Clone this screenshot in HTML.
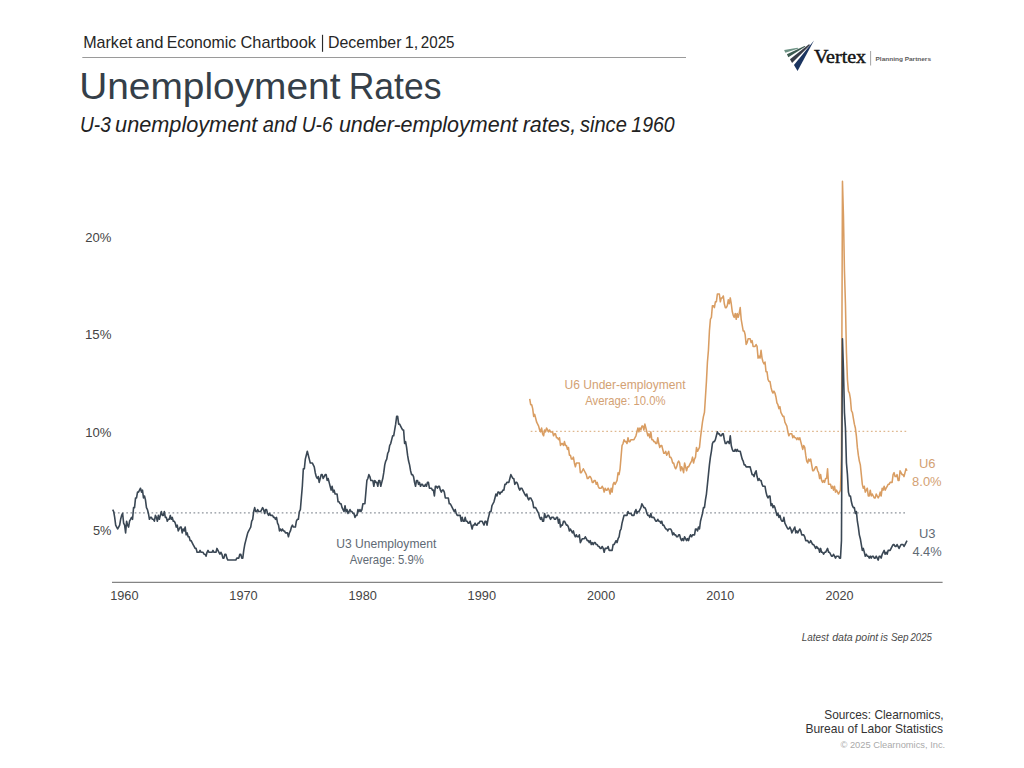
<!DOCTYPE html>
<html><head><meta charset="utf-8"><style>
html,body{margin:0;padding:0;background:#fff;width:1024px;height:768px;overflow:hidden}
svg{display:block}
</style></head><body>
<svg width="1024" height="768" viewBox="0 0 1024 768">
<rect width="1024" height="768" fill="#fff"/>
<rect x="321.95" y="34.8" width="1.15" height="17" fill="#2a2a2a"/>
<line x1="82.3" y1="57.5" x2="686" y2="57.5" stroke="#9a9a9a" stroke-width="1.1"/>

<g>
<polygon points="784.11,50.10 797.47,47.75 798.50,48.41 785.38,52.72" fill="#6e9385"/>
<polygon points="786.92,54.32 804.50,45.97 805.53,46.53 788.33,57.32" fill="#3d5a50"/>
<polygon points="789.97,59.19 808.96,44.19 810.13,44.94 792.08,62.94" fill="#393d48"/>
<polygon points="793.95,65.10 813.97,40.58 797.56,70.91" fill="#1b3460"/>
<text x="813.9" y="62.6" font-family="Liberation Serif" font-size="18" fill="#151515" stroke="#151515" stroke-width="0.45" textLength="52.2" lengthAdjust="spacingAndGlyphs">Vertex</text>
<rect x="870.2" y="51" width="0.9" height="14.5" fill="#999"/>
<text x="875.5" y="61" font-family="Liberation Sans" font-weight="bold" font-size="6.1" fill="#5a5a5a" textLength="55.5" lengthAdjust="spacingAndGlyphs">Planning Partners</text>
</g>

<line x1="113.7" y1="512.90" x2="907.0" y2="512.90" stroke="#8d939b" stroke-width="1.2" stroke-dasharray="1.7,2.5"/>
<line x1="530.7" y1="431.40" x2="907.0" y2="431.40" stroke="#dfb890" stroke-width="1.2" stroke-dasharray="1.7,2.5"/>
<line x1="112" y1="582.3" x2="942.6" y2="582.3" stroke="#848484" stroke-width="1.3"/>
<polyline points="529.71,398.89 530.70,404.71 531.69,404.71 532.69,408.60 533.68,416.36 534.67,414.42 535.66,418.31 536.66,422.19 537.65,424.13 538.64,426.07 539.64,429.96 540.63,431.90 541.62,428.02 542.61,433.84 543.61,435.78 544.60,429.96 545.59,431.90 546.59,428.02 547.58,429.96 548.57,431.90 549.56,429.96 550.56,431.90 551.55,431.90 552.54,431.90 553.54,435.78 554.53,433.84 555.52,433.84 556.52,437.73 557.51,437.73 558.50,439.67 559.49,437.73 560.49,445.49 561.48,443.55 562.47,443.55 563.47,445.49 564.46,441.61 565.45,445.49 566.44,445.49 567.44,449.38 568.43,447.44 569.42,455.20 570.42,455.20 571.41,459.09 572.40,459.09 573.39,457.15 574.39,462.97 575.38,466.86 576.37,462.97 577.37,462.97 578.36,462.97 579.35,462.97 580.34,472.68 581.34,472.68 582.33,470.74 583.32,468.80 584.32,470.74 585.31,472.68 586.30,474.62 587.29,478.51 588.29,478.51 589.28,476.57 590.27,476.57 591.27,478.51 592.26,482.39 593.25,482.39 594.24,480.45 595.24,480.45 596.23,484.33 597.22,482.39 598.22,486.28 599.21,488.22 600.20,488.22 601.19,488.22 602.19,486.28 603.18,488.22 604.17,492.10 605.17,488.22 606.16,490.16 607.15,490.16 608.14,488.22 609.14,490.16 610.13,494.04 611.12,488.22 612.12,492.10 613.11,484.33 614.10,482.39 615.09,484.33 616.09,482.39 617.08,480.45 618.07,472.68 619.07,474.62 620.06,468.80 621.05,457.15 622.04,445.49 623.04,443.55 624.03,439.67 625.02,441.61 626.02,441.61 627.01,443.55 628.00,437.73 629.00,441.61 629.99,441.61 630.98,439.67 631.97,439.67 632.97,439.67 633.96,439.67 634.95,437.73 635.95,435.78 636.94,431.90 637.93,428.02 638.92,431.90 639.92,428.02 640.91,429.96 641.90,426.07 642.90,426.07 643.89,429.96 644.88,424.13 645.87,428.02 646.87,431.90 647.86,435.78 648.85,433.84 649.85,437.73 650.84,431.90 651.83,439.67 652.82,439.67 653.82,441.61 654.81,441.61 655.80,443.55 656.80,443.55 657.79,437.73 658.78,443.55 659.77,447.44 660.77,445.49 661.76,445.49 662.75,449.38 663.75,453.26 664.74,453.26 665.73,451.32 666.72,455.20 667.72,453.26 668.71,451.32 669.70,457.15 670.70,457.15 671.69,459.09 672.68,462.97 673.67,462.97 674.67,466.86 675.66,468.80 676.65,466.86 677.65,462.97 678.64,461.03 679.63,462.97 680.62,470.74 681.62,466.86 682.61,468.80 683.60,472.68 684.60,462.97 685.59,466.86 686.58,470.74 687.57,466.86 688.57,466.86 689.56,464.91 690.55,462.97 691.55,461.03 692.54,457.15 693.53,462.97 694.52,459.09 695.52,457.15 696.51,447.44 697.50,451.32 698.50,449.38 699.49,447.44 700.48,437.73 701.47,429.96 702.47,422.19 703.46,416.36 704.45,412.48 705.45,396.94 706.44,381.41 707.43,361.99 708.43,350.34 709.42,330.92 710.41,319.26 711.40,317.32 712.40,305.67 713.39,305.67 714.38,307.61 715.38,301.79 716.37,301.79 717.36,294.02 718.35,294.02 719.35,294.02 720.34,301.79 721.33,297.90 722.33,297.90 723.32,295.96 724.31,303.73 725.30,307.61 726.30,307.61 727.29,305.67 728.28,299.84 729.28,303.73 730.27,297.90 731.26,303.73 732.25,311.50 733.25,315.38 734.24,317.32 735.23,313.44 736.23,319.26 737.22,313.44 738.21,317.32 739.20,313.44 740.20,307.61 741.19,319.26 742.18,325.09 743.18,330.92 744.17,330.92 745.16,334.80 746.15,344.51 747.15,342.57 748.14,338.68 749.13,338.68 750.13,338.68 751.12,342.57 752.11,340.63 753.10,346.45 754.10,346.45 755.09,346.45 756.08,344.51 757.08,346.45 758.07,358.10 759.06,356.16 760.05,358.10 761.05,350.34 762.04,358.10 763.03,361.99 764.03,363.93 765.02,361.99 766.01,371.70 767.00,371.70 768.00,379.47 768.99,381.41 769.98,381.41 770.98,387.23 771.97,391.12 772.96,393.06 773.95,391.12 774.95,393.06 775.94,396.94 776.93,402.77 777.93,404.71 778.92,408.60 779.91,406.65 780.90,412.48 781.90,414.42 782.89,416.36 783.88,416.36 784.88,422.19 785.87,424.13 786.86,426.07 787.86,431.90 788.85,435.78 789.84,433.84 790.83,433.84 791.83,433.84 792.82,437.73 793.81,435.78 794.81,437.73 795.80,437.73 796.79,439.67 797.78,437.73 798.78,439.67 799.77,437.73 800.76,441.61 801.76,445.49 802.75,449.38 803.74,445.49 804.73,447.44 805.73,455.20 806.72,461.03 807.71,462.97 808.71,459.09 809.70,461.03 810.69,459.09 811.68,464.91 812.68,470.74 813.67,470.74 814.66,468.80 815.66,466.86 816.65,466.86 817.64,470.74 818.63,472.68 819.63,478.51 820.62,474.62 821.61,480.45 822.61,482.39 823.60,480.45 824.59,482.39 825.58,478.51 826.58,478.51 827.57,468.80 828.56,484.33 829.56,484.33 830.55,484.33 831.54,488.22 832.53,486.28 833.53,490.16 834.52,486.28 835.51,492.10 836.51,490.16 837.50,492.10 838.49,494.04 839.48,492.10 840.48,490.16 841.47,455.20 842.46,181.38 843.46,216.34 844.45,270.71 845.44,303.73 846.43,352.28 847.43,379.47 848.42,391.12 849.41,393.06 850.41,398.89 851.40,410.54 852.39,412.48 853.38,418.31 854.38,424.13 855.37,428.02 856.36,435.78 857.36,447.44 858.35,455.20 859.34,461.03 860.33,464.91 861.33,474.62 862.32,484.33 863.31,488.22 864.31,486.28 865.30,492.10 866.29,490.16 867.28,488.22 868.28,495.99 869.27,495.99 870.26,490.16 871.26,495.99 872.25,494.04 873.24,495.99 874.24,497.93 875.23,497.93 876.22,494.04 877.21,495.99 878.21,497.93 879.20,495.99 880.19,492.10 881.19,495.99 882.18,488.22 883.17,490.16 884.16,486.28 885.16,490.16 886.15,488.22 887.14,486.28 888.14,484.33 889.13,484.33 890.12,482.39 891.11,482.39 892.11,482.39 893.10,474.62 894.09,472.68 895.09,476.57 896.08,476.57 897.07,474.62 898.06,480.45 899.06,480.45 900.05,470.74 901.04,472.68 902.04,474.62 903.03,474.62 904.02,476.57 905.01,472.68 906.01,468.80 907.00,470.74" fill="none" stroke="#d99d62" stroke-width="1.55" stroke-linejoin="round"/>
<polyline points="112.70,509.58 113.69,511.52 114.69,517.35 115.68,525.12 116.67,527.06 117.66,529.00 118.66,527.06 119.65,525.12 120.64,519.29 121.64,515.41 122.63,513.46 123.62,523.17 124.61,525.12 125.61,532.88 126.60,521.23 127.59,525.12 128.59,527.06 129.58,521.23 130.57,519.29 131.56,517.35 132.56,519.29 133.55,507.64 134.54,507.64 135.54,497.93 136.53,497.93 137.52,492.10 138.51,492.10 139.51,490.16 140.50,488.22 141.49,492.10 142.49,490.16 143.48,497.93 144.47,495.99 145.46,499.87 146.46,507.64 147.45,509.58 148.44,513.46 149.44,519.29 150.43,517.35 151.42,517.35 152.41,519.29 153.41,519.29 154.40,521.23 155.39,515.41 156.39,517.35 157.38,521.23 158.37,515.41 159.37,519.29 160.36,515.41 161.35,511.52 162.34,515.41 163.34,515.41 164.33,511.52 165.32,517.35 166.32,517.35 167.31,521.23 168.30,519.29 169.29,519.29 170.29,515.41 171.28,519.29 172.27,517.35 173.27,521.23 174.26,521.23 175.25,523.17 176.24,527.06 177.24,525.12 178.23,530.94 179.22,529.00 180.22,527.06 181.21,527.06 182.20,532.88 183.19,529.00 184.19,530.94 185.18,527.06 186.17,534.83 187.17,532.88 188.16,536.77 189.15,536.77 190.14,540.65 191.14,540.65 192.13,542.59 193.12,544.54 194.12,546.48 195.11,548.42 196.10,548.42 197.09,552.30 198.09,552.30 199.08,552.30 200.07,550.36 201.07,552.30 202.06,552.30 203.05,552.30 204.04,554.25 205.04,554.25 206.03,556.19 207.02,552.30 208.02,550.36 209.01,552.30 210.00,552.30 210.99,552.30 211.99,552.30 212.98,550.36 213.97,552.30 214.97,552.30 215.96,552.30 216.95,548.42 217.94,550.36 218.94,552.30 219.93,554.25 220.92,552.30 221.92,554.25 222.91,558.13 223.90,558.13 224.89,554.25 225.89,554.25 226.88,558.13 227.87,560.07 228.87,560.07 229.86,560.07 230.85,560.07 231.84,560.07 232.84,560.07 233.83,560.07 234.82,560.07 235.82,560.07 236.81,558.13 237.80,558.13 238.80,558.13 239.79,554.25 240.78,554.25 241.77,558.13 242.77,558.13 243.76,550.36 244.75,544.54 245.75,540.65 246.74,536.77 247.73,532.88 248.72,530.94 249.72,529.00 250.71,527.06 251.70,521.23 252.70,519.29 253.69,511.52 254.68,507.64 255.67,511.52 256.67,511.52 257.66,509.58 258.65,511.52 259.65,511.52 260.64,511.52 261.63,509.58 262.62,507.64 263.62,509.58 264.61,513.46 265.60,509.58 266.60,509.58 267.59,513.46 268.58,515.41 269.57,513.46 270.57,515.41 271.56,515.41 272.55,515.41 273.55,517.35 274.54,517.35 275.53,519.29 276.52,517.35 277.52,523.17 278.51,525.12 279.50,530.94 280.50,529.00 281.49,530.94 282.48,529.00 283.47,530.94 284.47,530.94 285.46,532.88 286.45,532.88 287.45,532.88 288.44,536.77 289.43,532.88 290.42,530.94 291.42,527.06 292.41,525.12 293.40,527.06 294.40,527.06 295.39,527.06 296.38,521.23 297.37,519.29 298.37,519.29 299.36,511.52 300.35,509.58 301.35,497.93 302.34,486.28 303.33,468.80 304.32,468.80 305.32,459.09 306.31,455.20 307.30,451.32 308.30,455.20 309.29,459.09 310.28,462.97 311.27,462.97 312.27,462.97 313.26,464.91 314.25,466.86 315.25,472.68 316.24,476.57 317.23,478.51 318.23,476.57 319.22,482.39 320.21,478.51 321.20,474.62 322.20,474.62 323.19,478.51 324.18,476.57 325.18,474.62 326.17,474.62 327.16,480.45 328.15,478.51 329.15,482.39 330.14,486.28 331.13,490.16 332.13,486.28 333.12,492.10 334.11,490.16 335.10,494.04 336.10,494.04 337.09,494.04 338.08,501.81 339.08,501.81 340.07,503.75 341.06,503.75 342.05,507.64 343.05,509.58 344.04,511.52 345.03,505.70 346.03,511.52 347.02,509.58 348.01,513.46 349.00,511.52 350.00,509.58 350.99,511.52 351.98,511.52 352.98,513.46 353.97,513.46 354.96,517.35 355.95,515.41 356.95,515.41 357.94,509.58 358.93,511.52 359.93,509.58 360.92,511.52 361.91,509.58 362.90,503.75 363.90,503.75 364.89,503.75 365.88,492.10 366.88,480.45 367.87,478.51 368.86,474.62 369.85,476.57 370.85,480.45 371.84,480.45 372.83,480.45 373.83,486.28 374.82,480.45 375.81,482.39 376.80,482.39 377.80,486.28 378.79,480.45 379.78,480.45 380.78,486.28 381.77,482.39 382.76,478.51 383.75,472.68 384.75,464.91 385.74,461.03 386.73,459.09 387.73,453.26 388.72,451.32 389.71,445.49 390.70,443.55 391.70,439.67 392.69,435.78 393.68,435.78 394.68,429.96 395.67,424.13 396.66,416.36 397.66,416.36 398.65,424.13 399.64,424.13 400.63,426.07 401.63,428.02 402.62,429.96 403.61,429.96 404.61,443.55 405.60,441.61 406.59,447.44 407.58,455.20 408.58,461.03 409.57,464.91 410.56,470.74 411.56,474.62 412.55,474.62 413.54,476.57 414.53,482.39 415.53,486.28 416.52,480.45 417.51,480.45 418.51,484.33 419.50,482.39 420.49,486.28 421.48,484.33 422.48,484.33 423.47,486.28 424.46,486.28 425.46,484.33 426.45,486.28 427.44,482.39 428.43,482.39 429.43,488.22 430.42,488.22 431.41,488.22 432.41,490.16 433.40,490.16 434.39,495.99 435.38,486.28 436.38,486.28 437.37,488.22 438.36,486.28 439.36,486.28 440.35,490.16 441.34,492.10 442.33,490.16 443.33,490.16 444.32,492.10 445.31,497.93 446.31,497.93 447.30,497.93 448.29,497.93 449.28,503.75 450.28,503.75 451.27,505.70 452.26,507.64 453.26,509.58 454.25,511.52 455.24,509.58 456.23,513.46 457.23,515.41 458.22,515.41 459.21,515.41 460.21,515.41 461.20,521.23 462.19,517.35 463.18,521.23 464.18,521.23 465.17,517.35 466.16,521.23 467.16,521.23 468.15,523.17 469.14,523.17 470.13,521.23 471.13,525.12 472.12,529.00 473.11,525.12 474.11,525.12 475.10,523.17 476.09,525.12 477.09,525.12 478.08,523.17 479.07,523.17 480.06,521.23 481.06,521.23 482.05,521.23 483.04,523.17 484.04,525.12 485.03,521.23 486.02,521.23 487.01,525.12 488.01,519.29 489.00,515.41 489.99,511.52 490.99,511.52 491.98,505.70 492.97,503.75 493.96,501.81 494.96,497.93 495.95,494.04 496.94,495.99 497.94,492.10 498.93,492.10 499.92,494.04 500.91,492.10 501.91,492.10 502.90,490.16 503.89,490.16 504.89,484.33 505.88,484.33 506.87,482.39 507.86,482.39 508.86,482.39 509.85,478.51 510.84,474.62 511.84,476.57 512.83,478.51 513.82,478.51 514.81,484.33 515.81,482.39 516.80,482.39 517.79,484.33 518.79,488.22 519.78,490.16 520.77,488.22 521.76,488.22 522.76,490.16 523.75,492.10 524.74,494.04 525.74,495.99 526.73,494.04 527.72,497.93 528.71,499.87 529.71,497.93 530.70,497.93 531.69,499.87 532.69,501.81 533.68,507.64 534.67,507.64 535.66,507.64 536.66,509.58 537.65,511.52 538.64,513.46 539.64,517.35 540.63,519.29 541.62,517.35 542.61,521.23 543.61,521.23 544.60,513.46 545.59,517.35 546.59,517.35 547.58,515.41 548.57,515.41 549.56,517.35 550.56,519.29 551.55,517.35 552.54,517.35 553.54,517.35 554.53,519.29 555.52,519.29 556.52,517.35 557.51,517.35 558.50,523.17 559.49,519.29 560.49,527.06 561.48,525.12 562.47,525.12 563.47,521.23 564.46,521.23 565.45,523.17 566.44,525.12 567.44,525.12 568.43,527.06 569.42,530.94 570.42,529.00 571.41,530.94 572.40,532.88 573.39,530.94 574.39,534.83 575.38,536.77 576.37,534.83 577.37,536.77 578.36,536.77 579.35,534.83 580.34,542.59 581.34,540.65 582.33,538.71 583.32,538.71 584.32,538.71 585.31,536.77 586.30,538.71 587.29,540.65 588.29,540.65 589.28,542.59 590.27,540.65 591.27,544.54 592.26,542.59 593.25,544.54 594.24,542.59 595.24,542.59 596.23,544.54 597.22,544.54 598.22,546.48 599.21,546.48 600.20,548.42 601.19,548.42 602.19,546.48 603.18,548.42 604.17,552.30 605.17,548.42 606.16,548.42 607.15,548.42 608.14,546.48 609.14,550.36 610.13,550.36 611.12,550.36 612.12,550.36 613.11,544.54 614.10,544.54 615.09,542.59 616.09,540.65 617.08,542.59 618.07,538.71 619.07,536.77 620.06,530.94 621.05,529.00 622.04,523.17 623.04,519.29 624.03,515.41 625.02,515.41 626.02,515.41 627.01,515.41 628.00,511.52 629.00,513.46 629.99,513.46 630.98,513.46 631.97,515.41 632.97,515.41 633.96,515.41 634.95,511.52 635.95,509.58 636.94,513.46 637.93,511.52 638.92,511.52 639.92,509.58 640.91,507.64 641.90,503.75 642.90,505.70 643.89,507.64 644.88,507.64 645.87,509.58 646.87,513.46 647.86,515.41 648.85,515.41 649.85,517.35 650.84,513.46 651.83,517.35 652.82,517.35 653.82,517.35 654.81,519.29 655.80,521.23 656.80,521.23 657.79,519.29 658.78,521.23 659.77,521.23 660.77,523.17 661.76,521.23 662.75,525.12 663.75,525.12 664.74,527.06 665.73,529.00 666.72,529.00 667.72,530.94 668.71,529.00 669.70,529.00 670.70,529.00 671.69,530.94 672.68,534.83 673.67,532.88 674.67,534.83 675.66,534.83 676.65,536.77 677.65,536.77 678.64,534.83 679.63,534.83 680.62,538.71 681.62,540.65 682.61,538.71 683.60,540.65 684.60,536.77 685.59,538.71 686.58,540.65 687.57,538.71 688.57,540.65 689.56,536.77 690.55,534.83 691.55,536.77 692.54,534.83 693.53,534.83 694.52,534.83 695.52,529.00 696.51,529.00 697.50,530.94 698.50,527.06 699.49,529.00 700.48,521.23 701.47,517.35 702.47,513.46 703.46,507.64 704.45,507.64 705.45,499.87 706.44,494.04 707.43,484.33 708.43,474.62 709.42,464.91 710.41,457.15 711.40,451.32 712.40,443.55 713.39,441.61 714.38,441.61 715.38,439.67 716.37,435.78 717.36,431.90 718.35,433.84 719.35,433.84 720.34,435.78 721.33,435.78 722.33,433.84 723.32,433.84 724.31,439.67 725.30,443.55 726.30,443.55 727.29,441.61 728.28,441.61 729.28,443.55 730.27,435.78 731.26,445.49 732.25,449.38 733.25,451.32 734.24,451.32 735.23,449.38 736.23,451.32 737.22,449.38 738.21,451.32 739.20,451.32 740.20,451.32 741.19,455.20 742.18,459.09 743.18,461.03 744.17,464.91 745.16,464.91 746.15,466.86 747.15,466.86 748.14,466.86 749.13,466.86 750.13,466.86 751.12,470.74 752.11,474.62 753.10,474.62 754.10,476.57 755.09,472.68 756.08,470.74 757.08,476.57 758.07,480.45 759.06,478.51 760.05,480.45 761.05,480.45 762.04,484.33 763.03,486.28 764.03,486.28 765.02,486.28 766.01,492.10 767.00,495.99 768.00,497.93 768.99,495.99 769.98,495.99 770.98,505.70 771.97,503.75 772.96,507.64 773.95,505.70 774.95,507.64 775.94,511.52 776.93,515.41 777.93,513.46 778.92,517.35 779.91,515.41 780.90,519.29 781.90,521.23 782.89,521.23 783.88,517.35 784.88,523.17 785.87,525.12 786.86,527.06 787.86,529.00 788.85,529.00 789.84,527.06 790.83,529.00 791.83,532.88 792.82,530.94 793.81,529.00 794.81,527.06 795.80,532.88 796.79,530.94 797.78,532.88 798.78,530.94 799.77,529.00 800.76,530.94 801.76,534.83 802.75,534.83 803.74,534.83 804.73,536.77 805.73,540.65 806.72,540.65 807.71,540.65 808.71,542.59 809.70,542.59 810.69,540.65 811.68,542.59 812.68,544.54 813.67,544.54 814.66,546.48 815.66,548.42 816.65,546.48 817.64,548.42 818.63,548.42 819.63,552.30 820.62,548.42 821.61,552.30 822.61,552.30 823.60,554.25 824.59,552.30 825.58,552.30 826.58,550.36 827.57,548.42 828.56,552.30 829.56,552.30 830.55,554.25 831.54,556.19 832.53,556.19 833.53,554.25 834.52,556.19 835.51,558.13 836.51,556.19 837.50,556.19 838.49,556.19 839.48,558.13 840.48,558.13 841.47,540.65 842.46,338.68 843.46,369.76 844.45,412.48 845.44,428.02 846.43,462.97 847.43,474.62 848.42,492.10 849.41,495.99 850.41,495.99 851.40,501.81 852.39,505.70 853.38,507.64 854.38,507.64 855.37,513.46 856.36,511.52 857.36,521.23 858.35,527.06 859.34,534.83 860.33,538.71 861.33,544.54 862.32,550.36 863.31,548.42 864.31,552.30 865.30,556.19 866.29,554.25 867.28,556.19 868.28,556.19 869.27,558.13 870.26,556.19 871.26,558.13 872.25,556.19 873.24,556.19 874.24,558.13 875.23,558.13 876.22,556.19 877.21,558.13 878.21,560.07 879.20,556.19 880.19,556.19 881.19,558.13 882.18,554.25 883.17,552.30 884.16,550.36 885.16,554.25 886.15,552.30 887.14,554.25 888.14,550.36 889.13,550.36 890.12,550.36 891.11,548.42 892.11,546.48 893.10,544.54 894.09,544.54 895.09,546.48 896.08,546.48 897.07,544.54 898.06,546.48 899.06,548.42 900.05,546.48 901.04,544.54 902.04,544.54 903.03,544.54 904.02,546.48 905.01,544.54 906.01,542.59 907.00,540.65" fill="none" stroke="#3a4754" stroke-width="1.6" stroke-linejoin="round"/>
<text x="83.18" y="47.60" font-family="Liberation Sans" font-size="15.99" font-weight="normal" font-style="normal" fill="#262626" textLength="49.14" lengthAdjust="spacingAndGlyphs">Market</text>
<text x="135.69" y="47.60" font-family="Liberation Sans" font-size="15.99" font-weight="normal" font-style="normal" fill="#262626" textLength="27.78" lengthAdjust="spacingAndGlyphs">and</text>
<text x="166.70" y="47.60" font-family="Liberation Sans" font-size="15.99" font-weight="normal" font-style="normal" fill="#262626" textLength="69.41" lengthAdjust="spacingAndGlyphs">Economic</text>
<text x="240.47" y="47.60" font-family="Liberation Sans" font-size="15.99" font-weight="normal" font-style="normal" fill="#262626" textLength="75.51" lengthAdjust="spacingAndGlyphs">Chartbook</text>
<text x="327.99" y="47.60" font-family="Liberation Sans" font-size="15.99" font-weight="normal" font-style="normal" fill="#262626" textLength="73.47" lengthAdjust="spacingAndGlyphs">December</text>
<text x="404.66" y="47.60" font-family="Liberation Sans" font-size="15.99" font-weight="normal" font-style="normal" fill="#262626" textLength="13.61" lengthAdjust="spacingAndGlyphs">1,</text>
<text x="420.74" y="47.60" font-family="Liberation Sans" font-size="15.99" font-weight="normal" font-style="normal" fill="#262626" textLength="33.80" lengthAdjust="spacingAndGlyphs">2025</text>
<text x="79.20" y="99.20" font-family="Liberation Sans" font-size="37.06" font-weight="normal" font-style="normal" fill="#353f49" textLength="261.28" lengthAdjust="spacingAndGlyphs">Unemployment</text>
<text x="348.69" y="99.20" font-family="Liberation Sans" font-size="37.06" font-weight="normal" font-style="normal" fill="#353f49" textLength="92.80" lengthAdjust="spacingAndGlyphs">Rates</text>
<text x="79.97" y="132.20" font-family="Liberation Sans" font-size="21.51" font-weight="normal" font-style="italic" fill="#222" textLength="30.90" lengthAdjust="spacingAndGlyphs">U-3</text>
<text x="115.09" y="132.20" font-family="Liberation Sans" font-size="21.51" font-weight="normal" font-style="italic" fill="#222" textLength="142.26" lengthAdjust="spacingAndGlyphs">unemployment</text>
<text x="262.85" y="132.20" font-family="Liberation Sans" font-size="21.51" font-weight="normal" font-style="italic" fill="#222" textLength="33.52" lengthAdjust="spacingAndGlyphs">and</text>
<text x="301.66" y="132.20" font-family="Liberation Sans" font-size="21.51" font-weight="normal" font-style="italic" fill="#222" textLength="31.14" lengthAdjust="spacingAndGlyphs">U-6</text>
<text x="338.90" y="132.20" font-family="Liberation Sans" font-size="21.51" font-weight="normal" font-style="italic" fill="#222" textLength="178.66" lengthAdjust="spacingAndGlyphs">under-employment</text>
<text x="522.64" y="132.20" font-family="Liberation Sans" font-size="21.51" font-weight="normal" font-style="italic" fill="#222" textLength="53.65" lengthAdjust="spacingAndGlyphs">rates,</text>
<text x="579.95" y="132.20" font-family="Liberation Sans" font-size="21.51" font-weight="normal" font-style="italic" fill="#222" textLength="46.89" lengthAdjust="spacingAndGlyphs">since</text>
<text x="631.29" y="132.20" font-family="Liberation Sans" font-size="21.51" font-weight="normal" font-style="italic" fill="#222" textLength="43.47" lengthAdjust="spacingAndGlyphs">1960</text>
<text x="85.34" y="242.20" font-family="Liberation Sans" font-size="11.92" font-weight="normal" font-style="normal" fill="#444" textLength="26.12" lengthAdjust="spacingAndGlyphs">20%</text>
<text x="84.99" y="339.20" font-family="Liberation Sans" font-size="11.92" font-weight="normal" font-style="normal" fill="#444" textLength="26.48" lengthAdjust="spacingAndGlyphs">15%</text>
<text x="85.30" y="437.20" font-family="Liberation Sans" font-size="11.92" font-weight="normal" font-style="normal" fill="#444" textLength="26.16" lengthAdjust="spacingAndGlyphs">10%</text>
<text x="92.99" y="534.90" font-family="Liberation Sans" font-size="11.92" font-weight="normal" font-style="normal" fill="#444" textLength="18.47" lengthAdjust="spacingAndGlyphs">5%</text>
<text x="110.19" y="599.50" font-family="Liberation Sans" font-size="12.50" font-weight="normal" font-style="normal" fill="#444" textLength="28.37" lengthAdjust="spacingAndGlyphs">1960</text>
<text x="229.34" y="599.50" font-family="Liberation Sans" font-size="12.50" font-weight="normal" font-style="normal" fill="#444" textLength="28.37" lengthAdjust="spacingAndGlyphs">1970</text>
<text x="348.48" y="599.50" font-family="Liberation Sans" font-size="12.50" font-weight="normal" font-style="normal" fill="#444" textLength="28.37" lengthAdjust="spacingAndGlyphs">1980</text>
<text x="467.63" y="599.50" font-family="Liberation Sans" font-size="12.50" font-weight="normal" font-style="normal" fill="#444" textLength="28.37" lengthAdjust="spacingAndGlyphs">1990</text>
<text x="587.11" y="599.50" font-family="Liberation Sans" font-size="12.50" font-weight="normal" font-style="normal" fill="#444" textLength="28.03" lengthAdjust="spacingAndGlyphs">2000</text>
<text x="706.26" y="599.50" font-family="Liberation Sans" font-size="12.50" font-weight="normal" font-style="normal" fill="#444" textLength="28.03" lengthAdjust="spacingAndGlyphs">2010</text>
<text x="825.40" y="599.50" font-family="Liberation Sans" font-size="12.50" font-weight="normal" font-style="normal" fill="#444" textLength="28.03" lengthAdjust="spacingAndGlyphs">2020</text>
<text x="564.57" y="389.30" font-family="Liberation Sans" font-size="11.92" font-weight="normal" font-style="normal" fill="#d3a173" textLength="121.02" lengthAdjust="spacingAndGlyphs">U6 Under-employment</text>
<text x="585.28" y="405.10" font-family="Liberation Sans" font-size="11.92" font-weight="normal" font-style="normal" fill="#d3a173" textLength="80.22" lengthAdjust="spacingAndGlyphs">Average: 10.0%</text>
<text x="336.17" y="548.30" font-family="Liberation Sans" font-size="11.92" font-weight="normal" font-style="normal" fill="#5f6a74" textLength="100.12" lengthAdjust="spacingAndGlyphs">U3 Unemployment</text>
<text x="349.78" y="564.00" font-family="Liberation Sans" font-size="11.92" font-weight="normal" font-style="normal" fill="#5f6a74" textLength="74.13" lengthAdjust="spacingAndGlyphs">Average: 5.9%</text>
<text x="918.90" y="467.50" font-family="Liberation Sans" font-size="12.06" font-weight="normal" font-style="normal" fill="#d3a173" textLength="16.57" lengthAdjust="spacingAndGlyphs">U6</text>
<text x="912.14" y="485.60" font-family="Liberation Sans" font-size="12.50" font-weight="normal" font-style="normal" fill="#d3a173" textLength="29.52" lengthAdjust="spacingAndGlyphs">8.0%</text>
<text x="918.90" y="537.70" font-family="Liberation Sans" font-size="12.06" font-weight="normal" font-style="normal" fill="#5f6a74" textLength="16.57" lengthAdjust="spacingAndGlyphs">U3</text>
<text x="912.41" y="555.50" font-family="Liberation Sans" font-size="12.50" font-weight="normal" font-style="normal" fill="#5f6a74" textLength="29.25" lengthAdjust="spacingAndGlyphs">4.4%</text>
<text x="801.80" y="641.10" font-family="Liberation Sans" font-size="11.34" font-weight="normal" font-style="italic" fill="#4a4a4a" textLength="26.86" lengthAdjust="spacingAndGlyphs">Latest</text>
<text x="832.14" y="641.10" font-family="Liberation Sans" font-size="11.34" font-weight="normal" font-style="italic" fill="#4a4a4a" textLength="20.62" lengthAdjust="spacingAndGlyphs">data</text>
<text x="855.46" y="641.10" font-family="Liberation Sans" font-size="11.34" font-weight="normal" font-style="italic" fill="#4a4a4a" textLength="22.77" lengthAdjust="spacingAndGlyphs">point</text>
<text x="880.53" y="641.10" font-family="Liberation Sans" font-size="11.34" font-weight="normal" font-style="italic" fill="#4a4a4a" textLength="7.48" lengthAdjust="spacingAndGlyphs">is</text>
<text x="891.02" y="641.10" font-family="Liberation Sans" font-size="11.34" font-weight="normal" font-style="italic" fill="#4a4a4a" textLength="17.60" lengthAdjust="spacingAndGlyphs">Sep</text>
<text x="910.46" y="641.10" font-family="Liberation Sans" font-size="11.34" font-weight="normal" font-style="italic" fill="#4a4a4a" textLength="21.42" lengthAdjust="spacingAndGlyphs">2025</text>
<text x="824.26" y="719.00" font-family="Liberation Sans" font-size="12.06" font-weight="normal" font-style="normal" fill="#333" textLength="119.41" lengthAdjust="spacingAndGlyphs">Sources: Clearnomics,</text>
<text x="805.41" y="732.50" font-family="Liberation Sans" font-size="12.06" font-weight="normal" font-style="normal" fill="#333" textLength="137.62" lengthAdjust="spacingAndGlyphs">Bureau of Labor Statistics</text>
<text x="840.46" y="747.80" font-family="Liberation Sans" font-size="9.88" font-weight="normal" font-style="normal" fill="#aaa" textLength="104.69" lengthAdjust="spacingAndGlyphs">© 2025 Clearnomics, Inc.</text>
</svg>
</body></html>
